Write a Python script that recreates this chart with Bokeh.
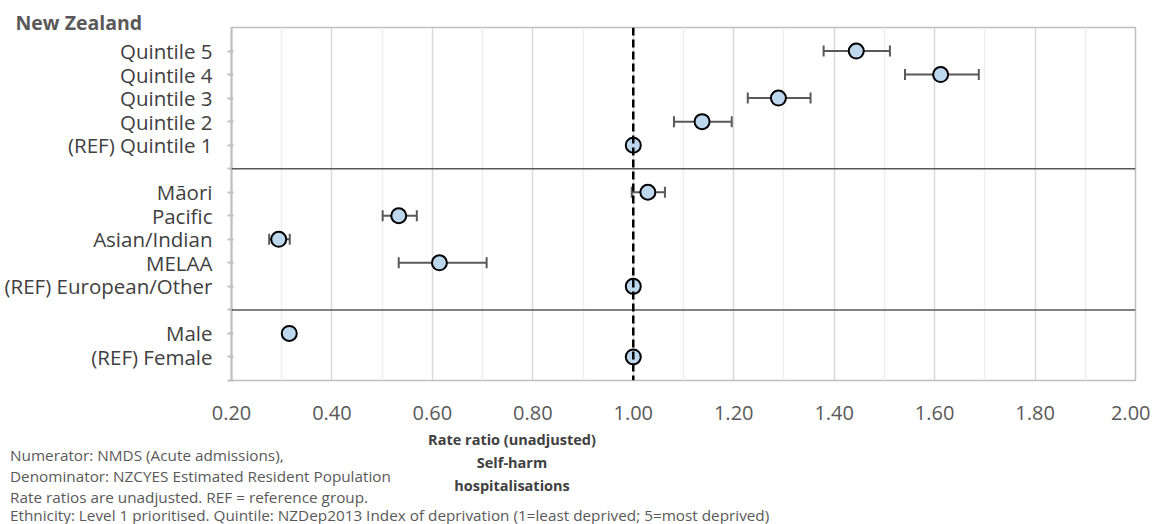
from bokeh.plotting import figure
from bokeh.layouts import column
from bokeh.models import (FixedTicker, Span, Div, Whisker, ColumnDataSource,
                          TeeHead, Range1d, NumeralTickFormatter)
from bokeh.embed import file_html
from bokeh.resources import INLINE

# ---- data (top to bottom; "" marks a group separator) ----
rows = ["Quintile 5", "Quintile 4", "Quintile 3", "Quintile 2", "(REF) Quintile 1", "",
        "Māori", "Pacific", "Asian/Indian", "MELAA", "(REF) European/Other", "",
        "Male", "(REF) Female"]
categories = [r for r in rows if r]
rate_ratio = [1.444, 1.612, 1.289, 1.137, 1.000,
              1.029, 0.533, 0.294, 0.614, 1.000,
              0.315, 1.000]
ci_lower = [1.379, 1.541, 1.228, 1.081, 1.000,
            0.997, 0.501, 0.275, 0.533, 1.000,
            0.305, 1.000]
ci_upper = [1.511, 1.688, 1.353, 1.196, 1.000,
            1.063, 0.569, 0.316, 0.708, 1.000,
            0.325, 1.000]
x_ticks = [0.2, 0.4, 0.6, 0.8, 1.0, 1.2, 1.4, 1.6, 1.8, 2.0]
x_minor = [0.3, 0.5, 0.7, 0.9, 1.1, 1.3, 1.5, 1.7, 1.9]
reference_value = 1.0

title_text = "New Zealand"
axis_title_lines = ["Rate ratio (unadjusted)", "Self-harm", "hospitalisations"]
footnotes = ["Numerator: NMDS (Acute admissions),",
             "Denominator: NZCYES Estimated Resident Population",
             "Rate ratios are unadjusted. REF = reference group.",
             "Ethnicity: Level 1 prioritised. Quintile: NZDep2013 Index of deprivation (1=least deprived; 5=most deprived)"]

# ---- positions derived from the row order ----
n = len(rows)
ypos = {}
separators = []
for i, r in enumerate(rows):
    y = n - i
    if r:
        ypos[r] = y
    else:
        separators.append(y)
ys = [ypos[c] for c in categories]

W = 1150
H1 = 428          # main chart canvas height
H2 = 96           # notes strip height
FONT = "Open Sans"

p = figure(width=W, height=H1, output_backend="svg", toolbar_location=None,
           x_range=Range1d(0.2, 2.0), y_range=Range1d(0, n + 1),
           min_border_left=231, min_border_right=W - 1135, min_border_top=27,
           min_border_bottom=H1 - 380, title=title_text)
p.outline_line_color = "#BFBFBF"
p.outline_line_width = 1.5
p.background_fill_color = "white"
p.border_fill_color = "white"

p.title.align = "left"
p.title.offset = -216
try:
    p.title.standoff = -16
except Exception:
    p.title.standoff = 0
p.title.text_font = FONT
p.title.text_font_size = "19.5px"
p.title.text_font_style = "bold"
p.title.text_color = "#595959"

# grid
p.ygrid.grid_line_color = None
p.xgrid.ticker = FixedTicker(ticks=x_ticks, minor_ticks=x_minor)
p.xgrid.grid_line_color = "#D9D9D9"
p.xgrid.grid_line_width = 1.5
p.xgrid.minor_grid_line_color = "#EFEFEF"
p.xgrid.minor_grid_line_width = 1.5

# x axis
p.xaxis.ticker = FixedTicker(ticks=x_ticks)
p.xaxis.formatter = NumeralTickFormatter(format="0.00")
p.xaxis.axis_line_color = None
p.xaxis.major_tick_line_color = None
p.xaxis.minor_tick_line_color = None
p.xaxis.major_label_text_font = FONT
p.xaxis.major_label_text_font_size = "20px"
p.xaxis.major_label_text_color = "#595959"
p.xaxis.major_label_standoff = 19

# y axis
yt = list(range(0, n + 1))
p.yaxis.ticker = FixedTicker(ticks=yt)
overrides = {t: "" for t in yt}
for c, y in ypos.items():
    overrides[y] = c
p.yaxis.major_label_overrides = overrides
p.yaxis.axis_line_color = "#BFBFBF"
p.yaxis.axis_line_width = 2
p.yaxis.major_tick_line_color = "#BFBFBF"
p.yaxis.major_tick_line_width = 2
p.yaxis.major_tick_in = 2
p.yaxis.major_tick_out = 4
p.yaxis.minor_tick_line_color = None
p.yaxis.major_label_text_font = FONT
p.yaxis.major_label_text_font_size = "20.5px"
p.yaxis.major_label_text_color = "#404040"
p.yaxis.major_label_standoff = 15

# separators and reference line
for s in separators:
    p.add_layout(Span(location=s, dimension="width", line_color="#595959", line_width=1.5))
p.add_layout(Span(location=reference_value, dimension="height", line_color="black",
                  line_width=2.5, line_dash="8 4"))

# error bars
eb = [(y, lo, hi) for y, lo, hi in zip(ys, ci_lower, ci_upper) if hi > lo]
err_src = ColumnDataSource(dict(y=[e[0] for e in eb], lo=[e[1] for e in eb], hi=[e[2] for e in eb]))
w = Whisker(source=err_src, base="y", lower="lo", upper="hi", dimension="width",
            line_color="#595959", line_width=2,
            lower_head=TeeHead(size=11, line_color="#595959", line_width=2),
            upper_head=TeeHead(size=11, line_color="#595959", line_width=2))
p.add_layout(w)

src = ColumnDataSource(dict(x=rate_ratio, y=ys, cat=categories))
p.scatter("x", "y", source=src, size=15, fill_color="#BDD7EE", line_color="black", line_width=2)

# ---- notes strip below the chart (HTML text) ----
spans = []
for t, Yc in zip(axis_title_lines, [440, 463, 486]):
    lh = 22
    spans.append(
        f'<div style="position:absolute;left:{512 - 150}px;width:300px;top:{Yc - H1 - lh / 2}px;'
        f'height:{lh}px;line-height:{lh}px;text-align:center;font-family:\'{FONT}\';'
        f'font-size:14.5px;font-weight:bold;color:#404040;white-space:nowrap;">{t}</div>')
for t, Yc in zip(footnotes, [454.5, 476, 497, 515]):
    lh = 16
    spans.append(
        f'<div style="position:absolute;left:10px;top:{Yc - H1 - lh / 2}px;'
        f'height:{lh}px;line-height:{lh}px;font-family:\'{FONT}\';'
        f'font-size:15.3px;color:#595959;white-space:nowrap;">{t}</div>')
notes = Div(text='<div style="position:relative;width:%dpx;height:%dpx;">%s</div>' % (W, H2, "".join(spans)),
            width=W, height=H2, margin=0)

open("out.html", "w").write(file_html(column(p, notes, spacing=0), INLINE))
